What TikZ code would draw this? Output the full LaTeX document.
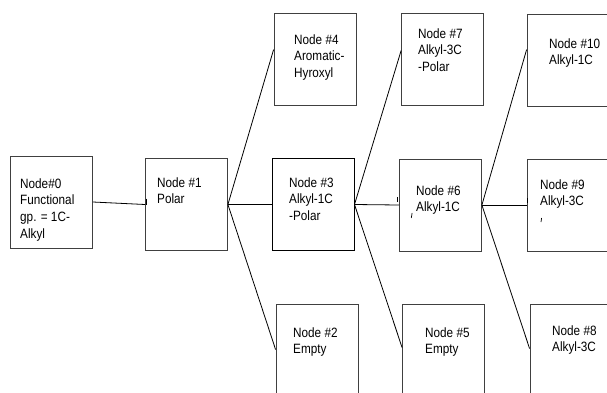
\documentclass[tikz,border=0pt]{standalone}
\usepackage{fontspec}
\setmainfont{Liberation Sans}[FakeStretch=0.87]
\usetikzlibrary{calc}
\begin{document}
\begin{tikzpicture}[x=1pt,y=-1pt,
  box/.style={draw=black!75,line width=0.8pt,minimum width=82pt,minimum height=92pt,inner sep=0pt},
  lbl/.style={anchor=base west,inner sep=0pt,align=left,font=\fontsize{13.5pt}{16.8pt}\selectfont},
  conn/.style={draw=black,line width=0.8pt},
  tick/.style={draw=black,line width=0.7pt}]
\useasboundingbox (0,0) rectangle (607,392);
\clip (0,0) rectangle (607,392);
% boxes
\node[box] (n0) at (51.5,202) {};
\node[box] (n1) at (186.5,204.5) {};
\node[box] (n4) at (315,59) {};
\node[box,draw=black,line width=1pt] (n3) at (313,204.5) {};
\node[box] (n2) at (317,350) {};
\node[box] (n7) at (442.5,59) {};
\node[box] (n6) at (440.5,205) {};
\node[box] (n5) at (443.5,350) {};
\node[box] (n10) at (568,60) {};
\node[box] (n9) at (568,205) {};
\node[box] (n8) at (571,350) {};
% labels (anchored at the baseline of the last line)
\node[lbl] (t0) at (20,238.4) {Node\#0\\Functional\\gp. = 1C-\\Alkyl};
\node[lbl] (t1) at (157,203.8) {Node \#1\\Polar};
\node[lbl] (t4) at (294,77.6) {Node \#4\\Aromatic-\\Hyroxyl};
\node[lbl] (t3) at (289,220.6) {Node \#3\\Alkyl-1C\\-Polar};
\node[lbl] (t2) at (293,353.8) {Node \#2\\Empty};
\node[lbl] (t7) at (418,71.6) {Node \#7\\Alkyl-3C\\-Polar};
\node[lbl] (t6) at (416,211.8) {Node \#6\\Alkyl-1C};
\node[lbl] (t5) at (425,353.8) {Node \#5\\Empty};
\node[lbl] (t10) at (549,64.8) {Node \#10\\Alkyl-1C};
\node[lbl] (t9) at (540,205.8) {Node \#9\\Alkyl-3C};
\node[lbl] (t8) at (552,351.8) {Node \#8\\Alkyl-3C};
% connectors
\draw[conn] (n0.east) -- (n1.west);
\draw[conn] (n1.east) -- ($(n4.north west)+(0,37)$);
\draw[conn] (n1.east) -- (n3.west);
\draw[conn] (n1.east) -- ($(n2.north west)+(0,46)$);
\draw[conn] (n3.east) -- ($(n7.north west)+(0,38)$);
\draw[conn] (n3.east) -- (n6.west);
\draw[conn] (n3.east) -- ($(n5.north west)+(0,44)$);
\draw[conn] (n6.east) -- ($(n10.north west)+(0,36)$);
\draw[conn] (n6.east) -- (n9.west);
\draw[conn] (n6.east) -- ($(n8.north west)+(0,45)$);
% small stray marks
\draw[tick] ($(n1.west)+(1,-6)$) -- ++(0,6);
\draw[tick] ($(n6.west)+(-1.5,-8)$) -- ++(0,5);
\draw[tick] ($(n6.west)+(13,8)$) -- ++(-0.8,5);
\draw[tick] ($(n9.west)+(1,-7)$) -- ++(0,5);
\draw[tick] ($(n9.west)+(15,13)$) -- ++(-0.6,4);
\end{tikzpicture}
\end{document}
